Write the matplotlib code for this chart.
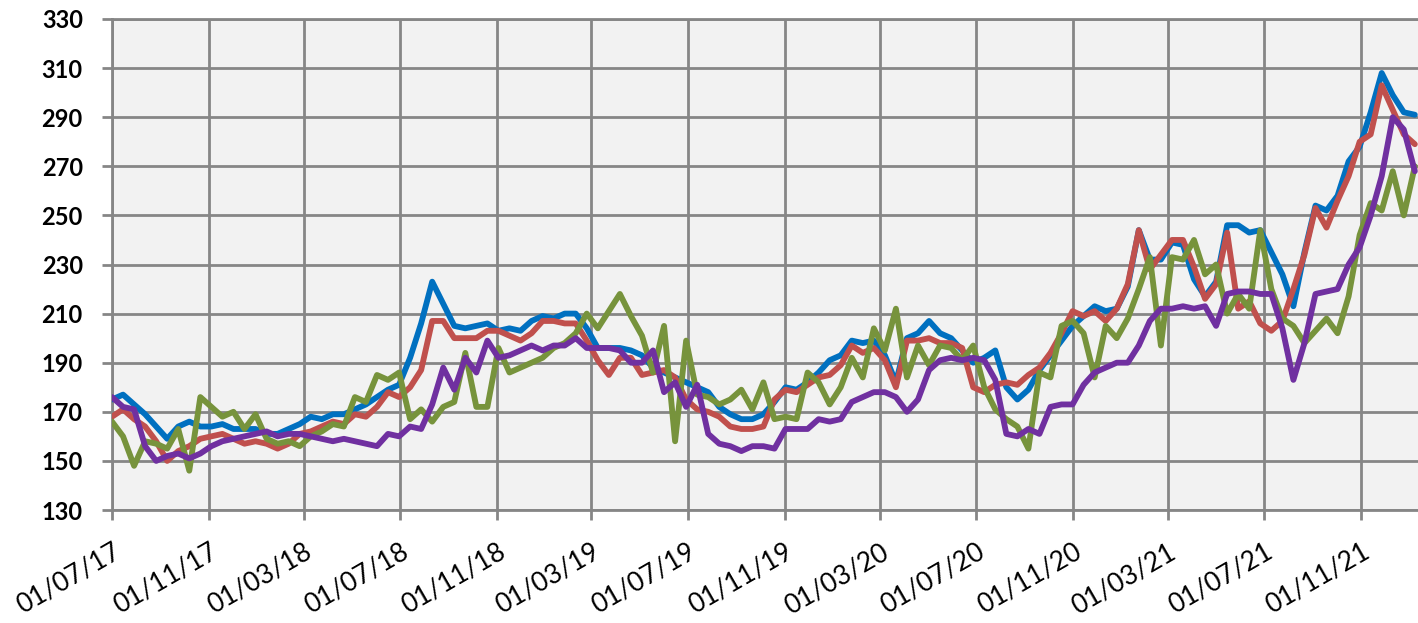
import matplotlib
matplotlib.use('Agg')
import matplotlib.pyplot as plt
import matplotlib.dates as mdates
import pandas as pd

# fortnightly readings, starting 01/07/17
start_date = '2017-07-01'

blue = [175, 177, 173, 169, 164, 159, 164, 166, 164, 164, 165, 163, 163, 163, 161, 161, 163, 165, 168, 167,
        169, 169, 171, 173, 176, 179, 181, 192, 206, 223, 214, 205, 204, 205, 206, 203, 204, 203, 207, 209,
        208, 210, 210, 204, 196, 196, 196, 195, 193, 188, 186, 184, 182, 180, 178, 172, 169, 167, 167,
        169, 174, 180, 179, 182, 186, 191, 193, 199, 198, 199, 193, 182, 200, 202, 207, 202, 200, 195, 190,
        192, 195, 180, 175, 179, 187, 193, 199, 205, 209, 213, 211, 212, 221, 244, 232, 232, 239, 238,
        224, 217, 223, 246, 246, 243, 244, 235, 226, 213, 235, 254, 252, 258, 272, 278, 292, 308, 299, 292, 291]

red = [168, 171, 167, 164, 158, 150, 154, 156, 159, 160, 161, 159, 157, 158, 157, 155, 157, 161, 162, 164,
       166, 165, 169, 168, 172, 178, 176, 180, 187, 207, 207, 200, 200, 200, 203, 203, 201, 199, 202, 207,
       207, 206, 206, 199, 191, 185, 192, 192, 185, 186, 187, 184, 175, 171, 170, 168, 164, 163, 163,
       164, 175, 179, 178, 181, 184, 185, 189, 197, 194, 196, 191, 180, 199, 199, 200, 198, 198, 196, 180,
       178, 181, 182, 181, 185, 188, 194, 202, 211, 209, 211, 207, 212, 222, 244, 228, 234, 240, 240,
       229, 216, 222, 243, 212, 215, 206, 203, 207, 220, 234, 253, 245, 256, 266, 280, 283, 303, 293, 283, 279]

green = [166, 160, 148, 158, 157, 155, 163, 146, 176, 172, 168, 170, 163, 169, 159, 157, 158, 156, 160, 162,
         165, 164, 176, 174, 185, 183, 186, 167, 171, 166, 172, 174, 194, 172, 172, 196, 186, 188, 190, 192,
         196, 198, 202, 210, 204, 211, 218, 209, 201, 186, 205, 158, 199, 177, 176, 173, 175, 179, 171,
         182, 167, 168, 167, 186, 182, 173, 180, 192, 184, 204, 195, 212, 184, 197, 189, 197, 196, 191, 197,
         180, 171, 167, 164, 155, 186, 184, 205, 207, 202, 184, 205, 200, 208, 220, 233, 197, 233, 232,
         240, 226, 230, 210, 218, 212, 244, 220, 208, 205, 198, 203, 208, 202, 217, 242, 255, 252, 268, 250, 270]

purple = [176, 172, 171, 156, 150, 152, 153, 151, 153, 156, 158, 159, 160, 161, 162, 160, 161, 161, 160, 159,
          158, 159, 158, 157, 156, 161, 160, 164, 163, 173, 188, 179, 192, 186, 199, 192, 193, 195, 197, 195,
          197, 197, 200, 196, 196, 196, 195, 190, 190, 195, 178, 182, 172, 181, 161, 157, 156, 154, 156,
          156, 155, 163, 163, 163, 167, 166, 167, 174, 176, 178, 178, 176, 170, 175, 187, 191, 192, 191, 192,
          191, 183, 161, 160, 163, 161, 172, 173, 173, 181, 186, 188, 190, 190, 197, 207, 212, 212, 213,
          212, 213, 205, 218, 219, 219, 218, 218, 204, 183, 198, 218, 219, 220, 230, 237, 250, 266, 290, 285, 268]

series = [blue, red, green, purple]
colors = ['#0070C0', '#C0504D', '#77933C', '#7030A0']

dates = pd.date_range(start_date, periods=len(blue), freq='14D')

plt.rcParams['font.family'] = ['Lato', 'DejaVu Sans']

fig = plt.figure(figsize=(14.18, 6.23), dpi=100)
ax = fig.add_axes([112 / 1418, 1 - 510 / 623, 1 - 112 / 1418, (510 - 19) / 623])
ax.set_facecolor('#F2F2F2')

for vals, c in zip(series, colors):
    ax.plot(dates, vals, color=c, linewidth=4.2, solid_joinstyle='round',
            solid_capstyle='round', zorder=3)

grid_c = '#868686'
ax.set_ylim(130, 330)
ax.set_yticks(range(130, 331, 20))
ax.set_xlim(pd.Timestamp('2017-07-01'), pd.Timestamp('2022-01-12'))
ax.xaxis.set_major_locator(mdates.MonthLocator(bymonth=[3, 7, 11], bymonthday=1))
ax.xaxis.set_major_formatter(mdates.DateFormatter('%d/%m/%y'))

ax.grid(True, color=grid_c, linewidth=2, zorder=1)
ax.set_axisbelow(True)
for side in ['left', 'bottom', 'top']:
    ax.spines[side].set_color(grid_c)
    ax.spines[side].set_linewidth(2)
ax.spines['right'].set_visible(False)

ax.tick_params(axis='both', color=grid_c, width=2, length=7)
ax.tick_params(axis='y', labelsize=17, pad=14)
ax.tick_params(axis='x', labelsize=19, pad=14)
for lbl in ax.get_yticklabels():
    lbl.set_fontweight('bold')
for lbl in ax.get_xticklabels():
    lbl.set_rotation(30)
    lbl.set_ha('right')
    lbl.set_rotation_mode('anchor')

fig.savefig('out.png', dpi=100)
